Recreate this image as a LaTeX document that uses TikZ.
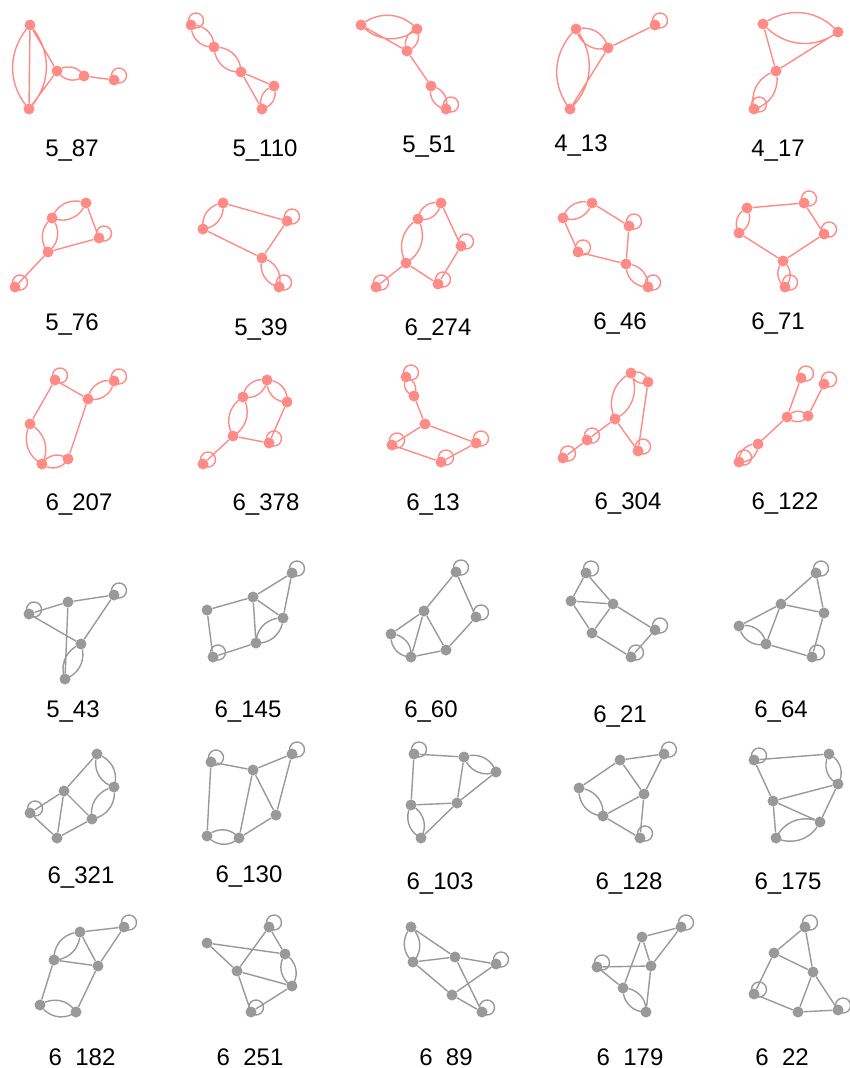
\documentclass[tikz,border=0pt]{standalone}
\usepackage{fontspec}
\setmainfont{Liberation Sans}
\usetikzlibrary{positioning}
\definecolor{pinkv}{HTML}{FF8B86}
\definecolor{grayv}{HTML}{999999}

\begin{document}
\begin{tikzpicture}[x=1pt,y=-1pt,
  pv/.style={circle,fill=pinkv,inner sep=0pt,minimum size=11pt},
  gv/.style={circle,fill=grayv,inner sep=0pt,minimum size=11pt},
  pe/.style={draw=pinkv,line width=1.4pt},
  ge/.style={draw=grayv,line width=1.4pt},
  bup/.style={bend left=40},bdn/.style={bend right=40},
  lbl/.style={anchor=base,font=\fontsize{24}{28}\selectfont}]
  \useasboundingbox (0,0) rectangle (850,1068);
  % row 1
  \begin{scope}[name prefix=g1-]
  \node[pv] (a) at (30,25) {}; \node[pv] (b) at (29,109) {}; \node[pv] (c) at (57,71) {};
  \node[pv] (d) at (84,76) {}; \node[pv] (e) at (114,80) {};
  \draw[pe] (a)--(b) (a) to[bup] (b) (a) to[bdn] (b) (a)--(c) (b)--(c) (c) to[bup] (d) (c) to[bdn] (d) (d)--(e);
  \draw[pe] (e.center) ++(5pt,4.5pt) circle (7.5pt);
  \node[lbl] (t) at (72,156) {5\_87};
  \end{scope}
  \begin{scope}[name prefix=g2-]
  \node[pv] (a) at (191,25) {}; \node[pv] (b) at (214,47) {}; \node[pv] (c) at (241,72) {};
  \node[pv] (d) at (274,86) {}; \node[pv] (e) at (262,109) {};
  \draw[pe] (a) to[bup] (b) (a) to[bdn] (b) (b) to[bup] (c) (b) to[bdn] (c) (c)--(d) (c)--(e) (d) to[bup] (e) (d) to[bdn] (e);
  \draw[pe] (a.center) ++(5pt,4.5pt) circle (7.5pt);
  \node[lbl] (t) at (265,156) {5\_110};
  \end{scope}
  \begin{scope}[name prefix=g3-]
  \node[pv] (a) at (361,25) {}; \node[pv] (b) at (417,29) {}; \node[pv] (c) at (407,51) {};
  \node[pv] (d) at (431,86) {}; \node[pv] (e) at (446,109) {};
  \draw[pe] (a) to[bup] (b) (a) to[bdn] (b) (a)--(c) (c) to[bup] (b) (c) to[bdn] (b) (c)--(d) (d) to[bup] (e) (d) to[bdn] (e);
  \draw[pe] (e.center) ++(5pt,4.5pt) circle (7.5pt);
  \node[lbl] (t) at (429,152) {5\_51};
  \end{scope}
  \begin{scope}[name prefix=g4-]
  \node[pv] (a) at (576,29) {}; \node[pv] (b) at (608,48) {}; \node[pv] (c) at (570,109) {};
  \node[pv] (d) at (655,25) {};
  \draw[pe] (a) to[bup] (b) (a) to[bdn] (b) (a) to[bup] (c) (a) to[bdn] (c) (c)--(b) (b)--(d);
  \draw[pe] (d.center) ++(5pt,4.5pt) circle (7.5pt);
  \node[lbl] (t) at (581,151) {4\_13};
  \end{scope}
  \begin{scope}[name prefix=g5-]
  \node[pv] (a) at (763,24) {}; \node[pv] (b) at (838,32) {}; \node[pv] (c) at (776,71) {};
  \node[pv] (d) at (754,109) {};
  \draw[pe] (a) to[bup] (b) (a) to[bdn] (b) (a)--(c) (c)--(b) (c) to[bup] (d) (c) to[bdn] (d);
  \draw[pe] (d.center) ++(5pt,4.5pt) circle (7.5pt);
  \node[lbl] (t) at (778,156) {4\_17};
  \end{scope}
  % row 2
  \begin{scope}[name prefix=g6-]
  \node[pv] (a) at (86,203) {}; \node[pv] (b) at (52,218) {}; \node[pv] (c) at (99,238) {};
  \node[pv] (d) at (48,252) {}; \node[pv] (e) at (15,287) {};
  \draw[pe] (a) to[bup] (b) (a) to[bdn] (b) (b) to[bup] (d) (b) to[bdn] (d) (a)--(c) (d)--(c) (d)--(e);
  \draw[pe] (c.center) ++(5pt,4.5pt) circle (7.5pt) (e.center) ++(5pt,4.5pt) circle (7.5pt);
  \node[lbl] (t) at (72,330) {5\_76};
  \end{scope}
  \begin{scope}[name prefix=g7-]
  \node[pv] (a) at (223,203) {}; \node[pv] (b) at (203,229) {}; \node[pv] (c) at (287,221) {};
  \node[pv] (d) at (262,258) {}; \node[pv] (e) at (279,287) {};
  \draw[pe] (a) to[bup] (b) (a) to[bdn] (b) (a)--(c) (b)--(d) (c)--(d) (d) to[bup] (e) (d) to[bdn] (e);
  \draw[pe] (c.center) ++(5pt,4.5pt) circle (7.5pt) (e.center) ++(5pt,4.5pt) circle (7.5pt);
  \node[lbl] (t) at (261,335) {5\_39};
  \end{scope}
  \begin{scope}[name prefix=g8-]
  \node[pv] (a) at (441,203) {}; \node[pv] (b) at (418,219) {}; \node[pv] (c) at (406,263) {};
  \node[pv] (d) at (376,287) {}; \node[pv] (e) at (438,284) {}; \node[pv] (f) at (461,246) {};
  \draw[pe] (a) to[bup] (b) (a) to[bdn] (b) (b) to[bup] (c) (b) to[bdn] (c) (c)--(d) (c)--(e) (e)--(f) (f)--(a);
  \draw[pe] (d.center) ++(5pt,4.5pt) circle (7.5pt) (e.center) ++(5pt,4.5pt) circle (7.5pt) (f.center) ++(5pt,4.5pt) circle (7.5pt);
  \node[lbl] (t) at (438,335) {6\_274};
  \end{scope}
  \begin{scope}[name prefix=g9-]
  \node[pv] (a) at (592,203) {}; \node[pv] (b) at (563,218) {}; \node[pv] (c) at (629,226) {};
  \node[pv] (d) at (578,252) {}; \node[pv] (e) at (626,264) {}; \node[pv] (f) at (648,287) {};
  \draw[pe] (a) to[bup] (b) (a) to[bdn] (b) (a)--(c) (b)--(d) (c)--(e) (d)--(e) (e) to[bup] (f) (e) to[bdn] (f);
  \draw[pe] (c.center) ++(5pt,4.5pt) circle (7.5pt) (d.center) ++(5pt,4.5pt) circle (7.5pt) (f.center) ++(5pt,4.5pt) circle (7.5pt);
  \node[lbl] (t) at (620,329) {6\_46};
  \end{scope}
  \begin{scope}[name prefix=g10-]
  \node[pv] (a) at (747,208) {}; \node[pv] (b) at (804,203) {}; \node[pv] (c) at (739,233) {};
  \node[pv] (d) at (824,234) {}; \node[pv] (e) at (783,261) {}; \node[pv] (f) at (785,287) {};
  \draw[pe] (a)--(b) (a) to[bup] (c) (a) to[bdn] (c) (b)--(d) (c)--(e) (d)--(e) (e) to[bup] (f) (e) to[bdn] (f);
  \draw[pe] (b.center) ++(5pt,4.5pt) circle (7.5pt) (d.center) ++(5pt,4.5pt) circle (7.5pt) (f.center) ++(5pt,4.5pt) circle (7.5pt);
  \node[lbl] (t) at (778,329) {6\_71};
  \end{scope}
  % row 3
  \begin{scope}[name prefix=g11-]
  \node[pv] (a) at (55,380) {}; \node[pv] (b) at (114,381) {}; \node[pv] (c) at (88,399) {};
  \node[pv] (d) at (30,424) {}; \node[pv] (e) at (68,459) {}; \node[pv] (f) at (42,464) {};
  \draw[pe] (a)--(c) (a)--(d) (b) to[bup] (c) (b) to[bdn] (c) (c)--(e) (d) to[bup] (f) (d) to[bdn] (f) (f) to[bup] (e) (f) to[bdn] (e);
  \draw[pe] (a.center) ++(5pt,4.5pt) circle (7.5pt) (b.center) ++(5pt,4.5pt) circle (7.5pt);
  \node[lbl] (t) at (79,510) {6\_207};
  \end{scope}
  \begin{scope}[name prefix=g12-]
  \node[pv] (a) at (267,380) {}; \node[pv] (b) at (243,397) {}; \node[pv] (c) at (287,402) {};
  \node[pv] (d) at (233,436) {}; \node[pv] (e) at (269,443) {}; \node[pv] (f) at (203,464) {};
  \draw[pe] (a) to[bup] (b) (a) to[bdn] (b) (a) to[bup] (c) (a) to[bdn] (c) (b) to[bup] (d) (b) to[bdn] (d) (c)--(e) (d)--(e) (d)--(f);
  \draw[pe] (e.center) ++(5pt,4.5pt) circle (7.5pt) (f.center) ++(5pt,4.5pt) circle (7.5pt);
  \node[lbl] (t) at (266,510) {6\_378};
  \end{scope}
  \begin{scope}[name prefix=g13-]
  \node[pv] (a) at (406,377) {}; \node[pv] (b) at (414,396) {}; \node[pv] (c) at (425,424) {};
  \node[pv] (d) at (392,445) {}; \node[pv] (e) at (441,462) {}; \node[pv] (f) at (476,443) {};
  \draw[pe] (a) to[bup] (b) (a) to[bdn] (b) (b)--(c) (c)--(d) (c)--(f) (d)--(e) (e)--(f);
  \draw[pe] (a.center) ++(5pt,4.5pt) circle (7.5pt) (d.center) ++(5pt,4.5pt) circle (7.5pt) (e.center) ++(5pt,4.5pt) circle (7.5pt) (f.center) ++(5pt,4.5pt) circle (7.5pt);
  \node[lbl] (t) at (433,510) {6\_13};
  \end{scope}
  \begin{scope}[name prefix=g14-]
  \node[pv] (a) at (631,373) {}; \node[pv] (b) at (648,382) {}; \node[pv] (c) at (615,419) {};
  \node[pv] (d) at (587,440) {}; \node[pv] (e) at (563,458) {}; \node[pv] (f) at (638,451) {};
  \draw[pe] (a) to[bup] (b) (a) to[bdn] (b) (a) to[bup] (c) (a) to[bdn] (c) (b)--(f) (c)--(d) (c)--(f) (d)--(e);
  \draw[pe] (d.center) ++(5pt,4.5pt) circle (7.5pt) (e.center) ++(5pt,4.5pt) circle (7.5pt) (f.center) ++(5pt,4.5pt) circle (7.5pt);
  \node[lbl] (t) at (628,509) {6\_304};
  \end{scope}
  \begin{scope}[name prefix=g15-]
  \node[pv] (a) at (801,378) {}; \node[pv] (b) at (824,384) {}; \node[pv] (c) at (787,417) {};
  \node[pv] (d) at (808,416) {}; \node[pv] (e) at (758,444) {}; \node[pv] (f) at (739,462) {};
  \draw[pe] (a)--(c) (b)--(d) (c) to[bup] (d) (c) to[bdn] (d) (c)--(e) (e) to[bup] (f) (e) to[bdn] (f);
  \draw[pe] (a.center) ++(5pt,4.5pt) circle (7.5pt) (b.center) ++(5pt,4.5pt) circle (7.5pt) (f.center) ++(5pt,4.5pt) circle (7.5pt);
  \node[lbl] (t) at (785,509) {6\_122};
  \end{scope}
  % row 4
  \begin{scope}[name prefix=g16-]
  \node[gv] (a) at (29,614) {}; \node[gv] (b) at (68,602) {}; \node[gv] (c) at (114,595) {};
  \node[gv] (d) at (81,644) {}; \node[gv] (e) at (65,679) {};
  \draw[ge] (a)--(b) (b)--(c) (a)--(d) (c)--(d) (b)--(e) (d) to[bup] (e) (d) to[bdn] (e);
  \draw[ge] (a.center) ++(5pt,4.5pt) circle (7.5pt) (c.center) ++(5pt,4.5pt) circle (7.5pt);
  \node[lbl] (t) at (73,717) {5\_43};
  \end{scope}
  \begin{scope}[name prefix=g17-]
  \node[gv] (a) at (207,610) {}; \node[gv] (b) at (253,597) {}; \node[gv] (c) at (292,573) {};
  \node[gv] (d) at (283,618) {}; \node[gv] (e) at (256,643) {}; \node[gv] (f) at (213,657) {};
  \draw[ge] (a)--(b) (b)--(c) (b)--(d) (b)--(e) (c)--(d) (d) to[bup] (e) (d) to[bdn] (e) (a)--(f) (e)--(f);
  \draw[ge] (c.center) ++(5pt,4.5pt) circle (7.5pt) (f.center) ++(5pt,4.5pt) circle (7.5pt);
  \node[lbl] (t) at (248,717) {6\_145};
  \end{scope}
  \begin{scope}[name prefix=g18-]
  \node[gv] (a) at (424,611) {}; \node[gv] (b) at (456,572) {}; \node[gv] (c) at (476,617) {};
  \node[gv] (d) at (446,650) {}; \node[gv] (e) at (411,657) {}; \node[gv] (f) at (391,634) {};
  \draw[ge] (a)--(b) (b)--(c) (c)--(d) (d)--(a) (a)--(f) (a)--(e) (f) to[bup] (e) (f) to[bdn] (e) (e)--(d);
  \draw[ge] (b.center) ++(5pt,4.5pt) circle (7.5pt) (c.center) ++(5pt,4.5pt) circle (7.5pt);
  \node[lbl] (t) at (431,717) {6\_60};
  \end{scope}
  \begin{scope}[name prefix=g19-]
  \node[gv] (a) at (586,573) {}; \node[gv] (b) at (571,601) {}; \node[gv] (c) at (613,604) {};
  \node[gv] (d) at (592,633) {}; \node[gv] (e) at (655,630) {}; \node[gv] (f) at (631,657) {};
  \draw[ge] (a)--(b) (a)--(c) (b)--(c) (b)--(d) (c)--(d) (c)--(e) (d)--(f) (e)--(f);
  \draw[ge] (a.center) ++(5pt,4.5pt) circle (7.5pt) (e.center) ++(5pt,4.5pt) circle (7.5pt) (f.center) ++(5pt,4.5pt) circle (7.5pt);
  \node[lbl] (t) at (620,722) {6\_21};
  \end{scope}
  \begin{scope}[name prefix=g20-]
  \node[gv] (a) at (816,573) {}; \node[gv] (b) at (781,604) {}; \node[gv] (c) at (824,613) {};
  \node[gv] (d) at (739,626) {}; \node[gv] (e) at (766,644) {}; \node[gv] (f) at (812,657) {};
  \draw[ge] (a)--(b) (a)--(c) (b)--(c) (b)--(d) (b)--(e) (d) to[bup] (e) (d) to[bdn] (e) (e)--(f) (c)--(f);
  \draw[ge] (a.center) ++(5pt,4.5pt) circle (7.5pt) (f.center) ++(5pt,4.5pt) circle (7.5pt);
  \node[lbl] (t) at (781,717) {6\_64};
  \end{scope}
  % row 5
  \begin{scope}[name prefix=g21-]
  \node[gv] (a) at (97,754) {}; \node[gv] (b) at (64,791) {}; \node[gv] (c) at (114,787) {};
  \node[gv] (d) at (30,813) {}; \node[gv] (e) at (92,819) {}; \node[gv] (f) at (57,838) {};
  \draw[ge] (a)--(b) (a) to[bup] (c) (a) to[bdn] (c) (b)--(d) (b)--(f) (b)--(e) (c) to[bup] (e) (c) to[bdn] (e) (d)--(f) (f)--(e);
  \draw[ge] (d.center) ++(5pt,4.5pt) circle (7.5pt);
  \node[lbl] (t) at (81,883) {6\_321};
  \end{scope}
  \begin{scope}[name prefix=g22-]
  \node[gv] (a) at (211,762) {}; \node[gv] (b) at (253,770) {}; \node[gv] (c) at (292,754) {};
  \node[gv] (d) at (276,815) {}; \node[gv] (e) at (207,836) {}; \node[gv] (f) at (239,838) {};
  \draw[ge] (a)--(b) (b)--(c) (a)--(e) (b)--(f) (b)--(d) (c)--(d) (d)--(f) (e) to[bup] (f) (e) to[bdn] (f);
  \draw[ge] (a.center) ++(5pt,4.5pt) circle (7.5pt) (c.center) ++(5pt,4.5pt) circle (7.5pt);
  \node[lbl] (t) at (249,882) {6\_130};
  \end{scope}
  \begin{scope}[name prefix=g23-]
  \node[gv] (a) at (414,754) {}; \node[gv] (b) at (464,757) {}; \node[gv] (c) at (496,772) {};
  \node[gv] (d) at (457,803) {}; \node[gv] (e) at (411,805) {}; \node[gv] (f) at (421,838) {};
  \draw[ge] (a)--(b) (a)--(e) (b) to[bup] (c) (b) to[bdn] (c) (b)--(d) (c)--(d) (e)--(d) (e) to[bup] (f) (e) to[bdn] (f) (d)--(f);
  \draw[ge] (a.center) ++(5pt,4.5pt) circle (7.5pt);
  \node[lbl] (t) at (440,889) {6\_103};
  \end{scope}
  \begin{scope}[name prefix=g24-]
  \node[gv] (a) at (620,760) {}; \node[gv] (b) at (664,754) {}; \node[gv] (c) at (579,788) {};
  \node[gv] (d) at (644,794) {}; \node[gv] (e) at (603,816) {}; \node[gv] (f) at (640,838) {};
  \draw[ge] (a)--(b) (a)--(c) (a)--(d) (b)--(d) (c) to[bup] (e) (c) to[bdn] (e) (d)--(e) (d)--(f) (e)--(f);
  \draw[ge] (b.center) ++(5pt,4.5pt) circle (7.5pt) (f.center) ++(5pt,4.5pt) circle (7.5pt);
  \node[lbl] (t) at (629,889) {6\_128};
  \end{scope}
  \begin{scope}[name prefix=g25-]
  \node[gv] (a) at (754,760) {}; \node[gv] (b) at (829,754) {}; \node[gv] (c) at (838,784) {};
  \node[gv] (d) at (773,801) {}; \node[gv] (e) at (820,822) {}; \node[gv] (f) at (776,838) {};
  \draw[ge] (a)--(b) (a)--(d) (b) to[bup] (c) (b) to[bdn] (c) (c)--(d) (c)--(e) (d)--(e) (d)--(f) (e) to[bup] (f) (e) to[bdn] (f);
  \draw[ge] (a.center) ++(5pt,4.5pt) circle (7.5pt);
  \node[lbl] (t) at (788,889) {6\_175};
  \end{scope}
  % row 6
  \begin{scope}[name prefix=g26-]
  \node[gv] (a) at (80,932) {}; \node[gv] (b) at (124,927) {}; \node[gv] (c) at (54,960) {};
  \node[gv] (d) at (98,966) {}; \node[gv] (e) at (40,1005) {}; \node[gv] (f) at (76,1012) {};
  \draw[ge] (a)--(b) (a) to[bup] (c) (a) to[bdn] (c) (a)--(d) (b)--(d) (c)--(d) (c)--(e) (d)--(f) (e) to[bup] (f) (e) to[bdn] (f);
  \draw[ge] (b.center) ++(5pt,4.5pt) circle (7.5pt);
  \node[lbl] (t) at (82,1065) {6\_182};
  \end{scope}
  \begin{scope}[name prefix=g27-]
  \node[gv] (a) at (207,943) {}; \node[gv] (b) at (269,927) {}; \node[gv] (c) at (285,954) {};
  \node[gv] (d) at (237,971) {}; \node[gv] (e) at (292,986) {}; \node[gv] (f) at (251,1012) {};
  \draw[ge] (a)--(c) (a)--(d) (b)--(d) (b)--(c) (c) to[bup] (e) (c) to[bdn] (e) (d)--(e) (d)--(f) (e)--(f);
  \draw[ge] (b.center) ++(5pt,4.5pt) circle (7.5pt) (f.center) ++(5pt,4.5pt) circle (7.5pt);
  \node[lbl] (t) at (250,1065) {6\_251};
  \end{scope}
  \begin{scope}[name prefix=g28-]
  \node[gv] (a) at (411,927) {}; \node[gv] (b) at (413,962) {}; \node[gv] (c) at (455,957) {};
  \node[gv] (d) at (496,964) {}; \node[gv] (e) at (452,995) {}; \node[gv] (f) at (482,1012) {};
  \draw[ge] (a) to[bup] (b) (a) to[bdn] (b) (a)--(c) (b)--(c) (b)--(e) (c)--(d) (c)--(f) (e)--(d) (e)--(f);
  \draw[ge] (d.center) ++(5pt,4.5pt) circle (7.5pt) (f.center) ++(5pt,4.5pt) circle (7.5pt);
  \node[lbl] (t) at (446,1065) {6\_89};
  \end{scope}
  \begin{scope}[name prefix=g29-]
  \node[gv] (a) at (642,937) {}; \node[gv] (b) at (681,927) {}; \node[gv] (c) at (597,967) {};
  \node[gv] (d) at (651,966) {}; \node[gv] (e) at (623,988) {}; \node[gv] (f) at (646,1012) {};
  \draw[ge] (a)--(b) (a)--(d) (a)--(e) (b)--(d) (c)--(d) (c)--(e) (d)--(f) (e) to[bup] (f) (e) to[bdn] (f);
  \draw[ge] (b.center) ++(5pt,4.5pt) circle (7.5pt) (c.center) ++(5pt,4.5pt) circle (7.5pt);
  \node[lbl] (t) at (630,1065) {6\_179};
  \end{scope}
  \begin{scope}[name prefix=g30-]
  \node[gv] (a) at (805,927) {}; \node[gv] (b) at (774,953) {}; \node[gv] (c) at (813,972) {};
  \node[gv] (d) at (754,994) {}; \node[gv] (e) at (798,1012) {}; \node[gv] (f) at (838,1010) {};
  \draw[ge] (a)--(b) (a)--(c) (b)--(c) (b)--(d) (c)--(e) (c)--(f) (d)--(e) (e)--(f);
  \draw[ge] (a.center) ++(5pt,4.5pt) circle (7.5pt) (d.center) ++(5pt,4.5pt) circle (7.5pt) (f.center) ++(5pt,4.5pt) circle (7.5pt);
  \node[lbl] (t) at (782,1065) {6\_22};
  \end{scope}
\end{tikzpicture}
\end{document}
